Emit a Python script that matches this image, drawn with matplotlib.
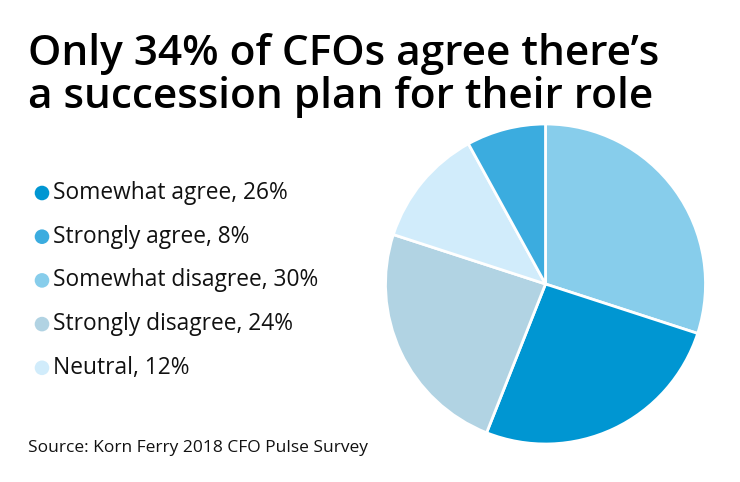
import matplotlib
matplotlib.use("Agg")
import matplotlib.pyplot as plt
from matplotlib.patches import Circle

plt.rcParams['font.family'] = ['Open Sans', 'DejaVu Sans']

# legend order
labels = ['Somewhat agree', 'Strongly agree', 'Somewhat disagree',
          'Strongly disagree', 'Neutral']
values = [26, 8, 30, 24, 12]
colors = ['#0096D2', '#3BACDF', '#87CDEB', '#B1D3E3', '#D1ECFB']
# order the slices appear clockwise from 12 o'clock
pie_order = [2, 0, 3, 4, 1]

title = "Only 34% of CFOs agree there\u2019s\na succession plan for their role"
source = "Source: Korn Ferry 2018 CFO Pulse Survey"

fig = plt.figure(figsize=(7.4, 4.82), dpi=100)
ax = fig.add_axes([0, 0, 1, 1])

ax.pie([values[i] for i in pie_order],
       colors=[colors[i] for i in pie_order],
       startangle=90, counterclock=False,
       center=(545.5, 198), radius=160,
       wedgeprops=dict(edgecolor='white', linewidth=2), frame=True)
ax.set_xlim(0, 740)
ax.set_ylim(0, 482)
ax.axis('off')

fig.text(28 / 740, 1 - 108 / 482, title, fontsize=30.5, fontweight='semibold',
         color='black', va='baseline', ha='left', linespacing=1.02)

for k, (lab, v, c) in enumerate(zip(labels, values, colors)):
    y = 482 - (193 + k * 43.7)
    ax.add_patch(Circle((42, y), 7.3, color=c, lw=0))
    ax.text(53, y, f"{lab}, {v}%", fontsize=16.4, va='center', ha='left',
            color='#111111')

fig.text(28 / 740, 1 - 452 / 482, source, fontsize=12.5, color='#111111',
         ha='left', va='baseline')

fig.savefig('out.png', dpi=100)
